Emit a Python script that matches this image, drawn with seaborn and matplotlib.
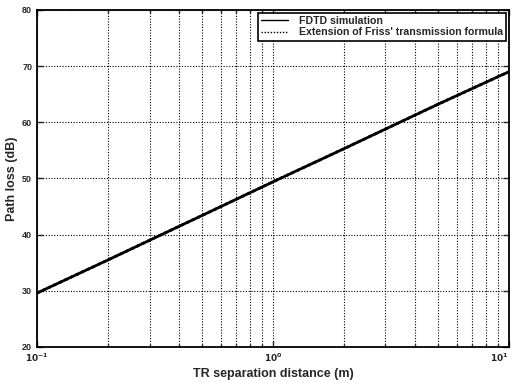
import numpy as np
import pandas as pd
import matplotlib
matplotlib.use("Agg")
import matplotlib.pyplot as plt
import seaborn as sns
from matplotlib.ticker import LogLocator, FixedLocator

distance = [0.1, 0.2, 0.3, 0.5, 1.0, 2.0, 3.0, 5.0, 10.0]
fdtd_loss = [29.6, 35.5, 39.0, 43.4, 49.4, 55.3, 58.8, 63.2, 69.0]
friis_loss = [29.6, 35.5, 39.0, 43.4, 49.4, 55.3, 58.8, 63.2, 69.0]
series_names = ["FDTD simulation", "Extension of Friss' transmission formula"]
y_ticks = [20, 30, 40, 50, 60, 70, 80]

sns.set_style("ticks")
plt.rcParams['font.family'] = ['Liberation Sans', 'DejaVu Sans']
plt.rcParams['font.weight'] = 'bold'

df = pd.DataFrame({
    "d": distance * 2,
    "loss": fdtd_loss + friis_loss,
    "series": [series_names[0]] * len(distance) + [series_names[1]] * len(distance),
})

fig = plt.figure(figsize=(5.14, 3.83), dpi=100)
ax = fig.add_axes([0.072, 0.094, 0.918, 0.880])

sns.lineplot(data=df, x="d", y="loss", hue="series", style="series",
             palette=["black", "black"], dashes=[(None, None), (1, 1.2)],
             linewidth=2.0, ax=ax, legend=True)

ax.set_xscale("log")
ax.set_xlim(0.1, 10)
ax.set_ylim(20, 80)
ax.yaxis.set_major_locator(FixedLocator(y_ticks))
ax.xaxis.set_major_locator(FixedLocator([0.1, 1, 10]))
ax.set_xticklabels([r"$\mathbf{10^{-1}}$", r"$\mathbf{10^{0}}$", r"$\mathbf{10^{1}}$"])
ax.xaxis.set_minor_locator(LogLocator(base=10, subs=np.arange(2, 10)))

ax.grid(True, which="major", axis="both", color="black", linestyle=(0, (1, 1.5)), linewidth=0.8)
ax.grid(True, which="minor", axis="x", color="black", linestyle=(0, (1, 1.5)), linewidth=0.8)

ax.tick_params(axis="both", which="both", direction="in", labelsize=6.5, top=True, right=True)
ax.tick_params(axis="both", which="major", length=4, width=1)
ax.tick_params(axis="x", which="minor", length=2.5, width=1)
for lbl in ax.get_yticklabels():
    lbl.set_fontweight("bold")
xl = ax.get_xticklabels()
xl[-1].set_horizontalalignment("right")
for sp in ax.spines.values():
    sp.set_linewidth(1.3)
    sp.set_color("black")

ax.set_xlabel("TR separation distance (m)", fontsize=9, fontweight="bold", labelpad=3)
ax.set_ylabel("Path loss (dB)", fontsize=9, fontweight="bold", labelpad=3)

leg = ax.legend(loc="upper right", fontsize=7.6, frameon=True, fancybox=False,
                edgecolor="black", framealpha=1, handlelength=2.6, handletextpad=1.0,
                borderaxespad=0.25, borderpad=0.3, labelspacing=0.15, title=None)
leg.get_frame().set_linewidth(1.2)
for t in leg.get_texts():
    t.set_fontweight("bold")
for h in leg.get_lines():
    h.set_linewidth(1.0)

fig.savefig("out.png", dpi=100)
